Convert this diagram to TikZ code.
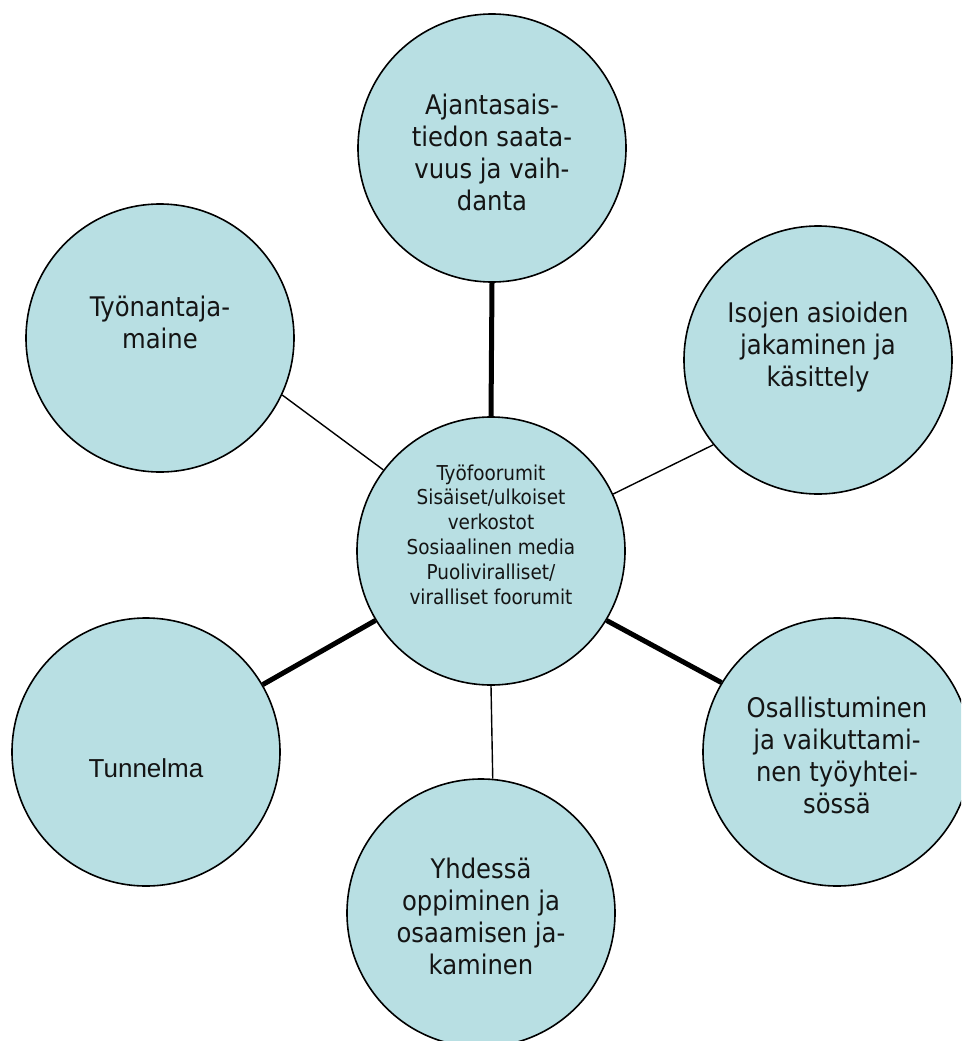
\documentclass[tikz,border=0pt]{standalone}
\usepackage{fontspec}
\newfontfamily\bubblefont{DejaVu Sans Condensed}
\newfontfamily\plainfont{Liberation Sans}
\definecolor{bubblefill}{RGB}{184,223,227}
\definecolor{ink}{RGB}{20,20,20}
\tikzset{
  bubble/.style={circle, draw=black, line width=1.6pt, fill=bubblefill,
    minimum size=268pt, inner sep=0pt},
  lbl/.style={align=center, text=ink, inner sep=0pt,
    font=\bubblefont\fontsize{27}{32}\selectfont},
  hublbl/.style={align=center, text=ink, inner sep=0pt,
    font=\bubblefont\fontsize{20.5}{24.8}\selectfont},
  moodlbl/.style={align=center, text=ink, inner sep=0pt,
    font=\plainfont\fontsize{26}{31}\selectfont},
  thinlink/.style={line width=1.4pt},
  thicklink/.style={line width=5pt}
}
\begin{document}
\begin{tikzpicture}[x=1pt,y=-1pt]
  \useasboundingbox (0,0) rectangle (961,1041);
  \clip (0,0) rectangle (961,1041);
  % circles
  \node[bubble] (hub)   at (491,551) {};
  \node[bubble] (info)  at (492,148) {};
  \node[bubble] (brand) at (160,338) {};
  \node[bubble] (share) at (818,360) {};
  \node[bubble] (part)  at (837,752) {};
  \node[bubble] (mood)  at (146,752) {};
  \node[bubble] (learn) at (481,913) {};
  % connectors
  \draw[thicklink] (hub.90)  -- (info.270);
  \draw[thinlink]  (hub.143) -- (brand.335);
  \draw[thinlink]  (hub.25)  -- (share.219);
  \draw[thicklink] (hub.-31) -- (part.149);
  \draw[thicklink] (hub.211) -- (mood.30);
  \draw[thinlink]  (hub.270) -- (learn.85);
  % texts
  \node[hublbl, yshift=16.5pt] (hubt) at (hub) {Työfoorumit\\Sisäiset/ulkoiset\\verkostot\\Sosiaalinen media\\Puoliviralliset/\\viralliset foorumit};
  \node[lbl, yshift=-4pt] (infot) at (info) {Ajantasais-\\tiedon saata-\\vuus ja vaih-\\danta};
  \node[lbl, yshift=15.5pt] (brandt) at (brand) {Työnantaja-\\maine};
  \node[lbl, yshift=13pt] (sharet) at (share) {Isojen asioiden\\jakaminen ja\\käsittely};
  \node[lbl, yshift=-3pt] (partt) at (part) {Osallistuminen\\ja vaikuttami-\\nen työyhtei-\\sössä};
  \node[moodlbl, yshift=-16.5pt] (moodt) at (mood) {Tunnelma};
  \node[lbl, yshift=-3pt] (learnt) at (learn) {Yhdessä\\oppiminen ja\\osaamisen ja-\\kaminen};
\end{tikzpicture}
\end{document}
